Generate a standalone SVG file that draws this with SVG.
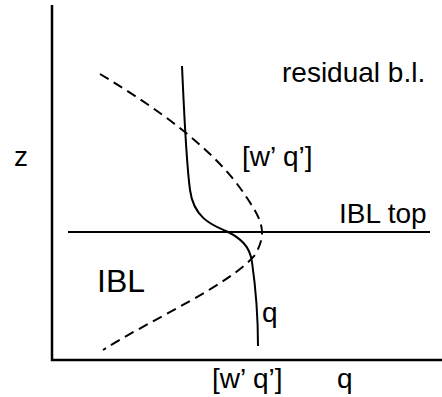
<svg xmlns="http://www.w3.org/2000/svg" width="442" height="397" viewBox="0 0 442 397">
<style>
text{font-family:"Liberation Sans",Arial,sans-serif;font-size:28px;fill:#000}
.ax{stroke:#000;stroke-width:2.5;fill:none}
.ln{stroke:#000;stroke-width:2;fill:none}
.ds{stroke:#000;stroke-width:2;fill:none;stroke-dasharray:10,6}
</style>
<rect width="442" height="397" fill="#fff"/>
<g id="connectors">
<path class="ax" d="M52,5 V360 H442"/>
<path class="ln" d="M68,232 H430"/>
<path class="ln" d="M182,66 C184,110 186,160 190,190 C194,220 215,226 228,232 C240,238 250,246 252,262 C256,290 258,320 258,346"/>
<path class="ds" d="M100,74 C160,110 215,150 245,195 C262,220 268,232 255,255 C230,285 150,320 103,350"/>
</g>
<g id="labels">
<text x="282" y="82">residual b.l.</text>
<text x="242" y="166">[w’ q’]</text>
<text x="14" y="166">z</text>
<text x="339" y="223">IBL top</text>
<text x="97" y="292" style="font-size:32px">IBL</text>
<text x="262" y="322">q</text>
<text x="212" y="388">[w’ q’]</text>
<text x="337" y="388">q</text>
</g>
</svg>
